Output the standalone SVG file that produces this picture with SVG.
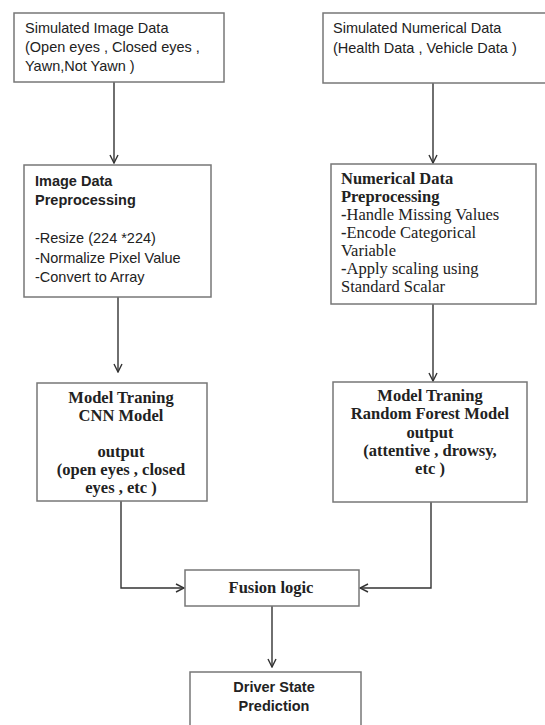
<svg xmlns="http://www.w3.org/2000/svg" width="545" height="725" viewBox="0 0 545 725">
<defs>
<marker id="arr" viewBox="0 0 10 10" refX="9" refY="5" markerWidth="10" markerHeight="10" markerUnits="userSpaceOnUse" orient="auto">
<path d="M1,1 L9,5 L1,9" fill="none" stroke="#333" stroke-width="1.4"/>
</marker>
<style>
.box{fill:#fff;stroke:#777;stroke-width:1.5}
.ln{fill:none;stroke:#333;stroke-width:1.4}
.sans{font-family:"Liberation Sans",Arial,sans-serif;font-size:14.5px;fill:#222}
.sansb{font-family:"Liberation Sans",Arial,sans-serif;font-size:14.5px;font-weight:bold;fill:#222}
.ser{font-family:"Liberation Serif","Times New Roman",serif;font-size:16.5px;fill:#222}
.serb{font-family:"Liberation Serif","Times New Roman",serif;font-size:16.5px;font-weight:bold;fill:#222}
.c{text-anchor:middle}
</style>
</defs>
<rect width="545" height="725" fill="#fff"/>
<g id="connectors">
<line class="ln" x1="114" y1="82" x2="114" y2="163" marker-end="url(#arr)"/>
<line class="ln" x1="433" y1="83" x2="433" y2="163" marker-end="url(#arr)"/>
<line class="ln" x1="118" y1="297" x2="118" y2="372" marker-end="url(#arr)"/>
<line class="ln" x1="433" y1="304" x2="433" y2="381" marker-end="url(#arr)"/>
<polyline class="ln" points="121,501 121,588 184,588" marker-end="url(#arr)"/>
<polyline class="ln" points="431,502 431,588 360,588" marker-end="url(#arr)"/>
<line class="ln" x1="272" y1="606" x2="272" y2="667" marker-end="url(#arr)"/>
</g>
<g id="sim-image">
<rect class="box" x="14" y="13" width="210" height="69"/>
<text class="sans" x="25" y="33">Simulated  Image Data</text>
<text class="sans" x="25" y="52">(Open eyes , Closed eyes ,</text>
<text class="sans" x="25" y="71">Yawn,Not  Yawn )</text>
</g>
<g id="sim-numerical">
<rect class="box" x="323" y="13" width="230" height="70"/>
<text class="sans" x="333" y="33">Simulated  Numerical Data</text>
<text class="sans" x="333" y="53">(Health Data , Vehicle Data )</text>
</g>
<g id="image-prep">
<rect class="box" x="24" y="165" width="187" height="132"/>
<text class="sansb" x="35" y="186">Image Data</text>
<text class="sansb" x="35" y="205">Preprocessing</text>
<text class="sans" x="35" y="243">-Resize (224 *224)</text>
<text class="sans" x="35" y="263">-Normalize Pixel Value</text>
<text class="sans" x="35" y="282">-Convert to Array</text>
</g>
<g id="num-prep">
<rect class="box" x="331" y="164" width="205" height="140"/>
<text class="serb" x="341" y="184">Numerical Data</text>
<text class="serb" x="341" y="202">Preprocessing</text>
<text class="ser" x="341" y="220"><tspan font-weight="bold">-</tspan>Handle Missing Values</text>
<text class="ser" x="341" y="238"><tspan font-weight="bold">-</tspan>Encode Categorical</text>
<text class="ser" x="341" y="256">Variable</text>
<text class="ser" x="341" y="274"><tspan font-weight="bold">-</tspan>Apply scaling using</text>
<text class="ser" x="341" y="292">Standard Scalar</text>
</g>
<g id="cnn">
<rect class="box" x="37" y="383" width="170" height="118"/>
<text class="serb c" x="121" y="403">Model Traning</text>
<text class="serb c" x="121" y="421">CNN Model</text>
<text class="serb c" x="121" y="457">output</text>
<text class="serb c" x="121" y="475">(open eyes , closed</text>
<text class="serb c" x="121" y="493">eyes , etc )</text>
</g>
<g id="rf">
<rect class="box" x="333" y="382" width="194" height="120"/>
<text class="serb c" x="430" y="401">Model Traning</text>
<text class="serb c" x="430" y="419">Random Forest Model</text>
<text class="serb c" x="430" y="438">output</text>
<text class="serb c" x="430" y="456">(attentive  , drowsy,</text>
<text class="serb c" x="430" y="474">etc )</text>
</g>
<g id="fusion">
<rect class="box" x="185" y="570" width="174" height="36"/>
<text class="serb c" x="271" y="593">Fusion logic</text>
</g>
<g id="driver">
<rect class="box" x="190" y="672" width="171" height="60"/>
<text class="sansb c" x="274" y="692" font-size="15">Driver State</text>
<text class="sansb c" x="274" y="711" font-size="15">Prediction</text>
</g>
</svg>
